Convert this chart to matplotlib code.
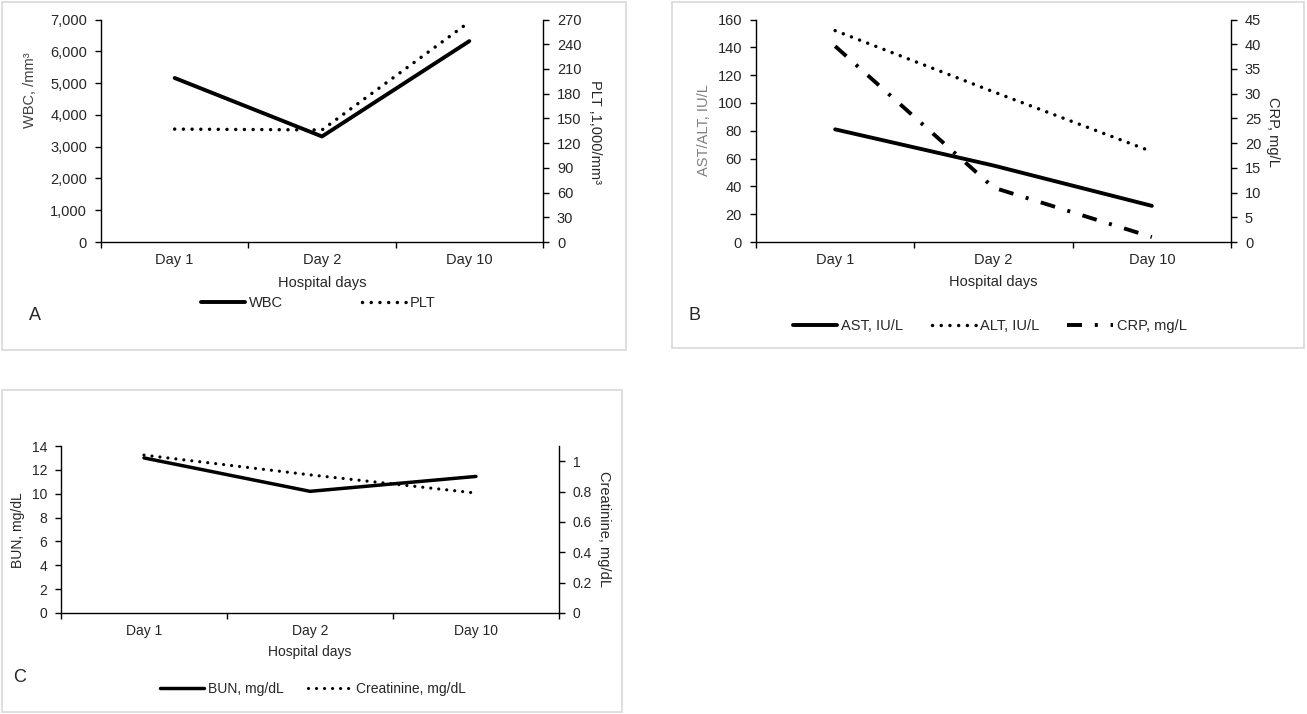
import matplotlib
matplotlib.use("Agg")
import matplotlib.pyplot as plt
from matplotlib.patches import Rectangle

plt.rcParams['font.family'] = ['Liberation Sans', 'DejaVu Sans']

# data
days = ["Day 1", "Day 2", "Day 10"]
wbc = [5160, 3320, 6320]
plt_count = [137, 136, 267]
ast = [81, 55, 26]
alt = [152, 108, 65]
crp = [39.6, 11.0, 1.0]
bun = [13.0, 10.2, 11.45]
creatinine = [1.04, 0.91, 0.79]

W, H = 1307, 714
TXT = '#262626'

fig = plt.figure(figsize=(W / 100, H / 100), dpi=100)


def rect(l, t, r, b):
    return [l / W, 1 - b / H, (r - l) / W, (b - t) / H]


def ftext(x, y, s, **kw):
    kw.setdefault('ha', 'center')
    kw.setdefault('va', 'center')
    kw.setdefault('color', TXT)
    fig.text(x / W, 1 - y / H, s, **kw)


# light grey frames around each panel
for l, t, r, b in [(2, 2, 626, 350), (672, 2, 1304, 348), (2, 390, 622, 712)]:
    fig.patches.append(Rectangle((l / W, 1 - b / H), (r - l) / W, (b - t) / H,
                                 transform=fig.transFigure, fill=False,
                                 edgecolor='#d9d9d9', lw=1.2))


def setup(ax, ax2, fs):
    x = range(len(days))
    ax.set_xlim(-0.5, 2.5)
    ax.set_xticks([-0.5, 0.5, 1.5, 2.5])
    ax.set_xticklabels([])
    ax.set_xticks(list(x), minor=True)
    ax.set_xticklabels(days, minor=True, fontsize=fs, color=TXT)
    ax.tick_params(axis='x', which='major', length=4, width=1, direction='out')
    ax.tick_params(axis='x', which='minor', length=0, pad=8)
    ax.tick_params(axis='y', length=4, width=1, pad=6, labelsize=fs, labelcolor=TXT)
    ax2.tick_params(axis='y', length=4, width=1, pad=6, labelsize=fs, labelcolor=TXT)
    for sp in ['top', 'right']:
        ax.spines[sp].set_visible(False)
    for sp in ['top', 'left', 'bottom']:
        ax2.spines[sp].set_visible(False)
    for a in (ax, ax2):
        for sp in a.spines.values():
            sp.set_linewidth(1.0)
            sp.set_color('black')
        a.patch.set_visible(False)
    return list(x)


solid = dict(color='black', lw=2.8, solid_capstyle='round', solid_joinstyle='round')
dotted = dict(color='black', lw=2.5, linestyle=(0, (0.01, 2.5)), dash_capstyle='round')
dashdot = dict(color='black', lw=2.8, linestyle=(0, (3.85, 3.3, 0.77, 3.3)), dash_capstyle='butt')


def leg(handle, label, x0, y, fs, hl_px=44):
    em = fs * 100 / 72
    fig.legend(handles=[handle], labels=[label], loc='center left',
               bbox_to_anchor=(x0 / W, 1 - y / H), frameon=False, borderpad=0,
               borderaxespad=0, handlelength=hl_px / em, handletextpad=4 / em,
               fontsize=fs, labelcolor=TXT)


# ---- Panel A ----
axA = fig.add_axes(rect(101, 19.5, 543, 242))
axA2 = axA.twinx()
x = setup(axA, axA2, 10.5)
hA1, = axA.plot(x, wbc, **solid)
hA2, = axA2.plot(x, plt_count, **dotted)
axA.set_ylim(0, 7000)
axA.set_yticks(range(0, 7001, 1000))
axA.set_yticklabels([f"{v:,}" for v in range(0, 7001, 1000)])
axA2.set_ylim(0, 270)
axA2.set_yticks(range(0, 271, 30))
ftext(30, 90, "WBC, /mm³", rotation=90, fontsize=10.5, color='#404040')
ftext(595, 132, "PLT ,1,000/mm³", rotation=270, fontsize=10.5)
ftext(322, 283, "Hospital days", fontsize=10.5)
ftext(35, 315, "A", fontsize=13)
leg(hA1, "WBC", 201, 303, 10.5)
leg(hA2, "PLT", 362, 303, 10.5)

# ---- Panel B ----
axB = fig.add_axes(rect(756, 19.5, 1231, 242))
axB2 = axB.twinx()
x = setup(axB, axB2, 10.5)
hB1, = axB.plot(x, ast, **solid)
hB2, = axB.plot(x, alt, **dotted)
hB3, = axB2.plot(x, crp, **dashdot)
axB.set_ylim(0, 160)
axB.set_yticks(range(0, 161, 20))
axB2.set_ylim(0, 45)
axB2.set_yticks(range(0, 46, 5))
ftext(704, 130, "AST/ALT, IU/L", rotation=90, fontsize=10.5, color='#7f7f7f')
ftext(1273, 132, "CRP, mg/L", rotation=270, fontsize=10.5)
ftext(993, 282, "Hospital days", fontsize=10.5)
ftext(695, 315, "B", fontsize=13)
leg(hB1, "AST, IU/L", 793, 326, 10.5)
leg(hB2, "ALT, IU/L", 932, 326, 10.5)
leg(hB3, "CRP, mg/L", 1067, 326, 10.5, hl_px=46)

# ---- Panel C ----
axC = fig.add_axes(rect(61, 446, 559, 613))
axC2 = axC.twinx()
x = setup(axC, axC2, 10)
hC1, = axC.plot(x, bun, **dict(solid, lw=2.5))
hC2, = axC2.plot(x, creatinine, **dict(dotted, lw=2.3))
axC.set_ylim(0, 14)
axC.set_yticks(range(0, 15, 2))
axC2.set_ylim(0, 1.1)
cr_ticks = [0, 0.2, 0.4, 0.6, 0.8, 1]
axC2.set_yticks(cr_ticks)
axC2.set_yticklabels(["0", "0.2", "0.4", "0.6", "0.8", "1"])
ftext(18, 530, "BUN, mg/dL", rotation=90, fontsize=10)
ftext(604, 529, "Creatinine, mg/dL", rotation=270, fontsize=10.5)
ftext(310, 652, "Hospital days", fontsize=10)
ftext(20, 678, "C", fontsize=13)
leg(hC1, "BUN, mg/dL", 160, 689, 10)
leg(hC2, "Creatinine, mg/dL", 308, 689, 10)

fig.savefig("out.png", dpi=100)
